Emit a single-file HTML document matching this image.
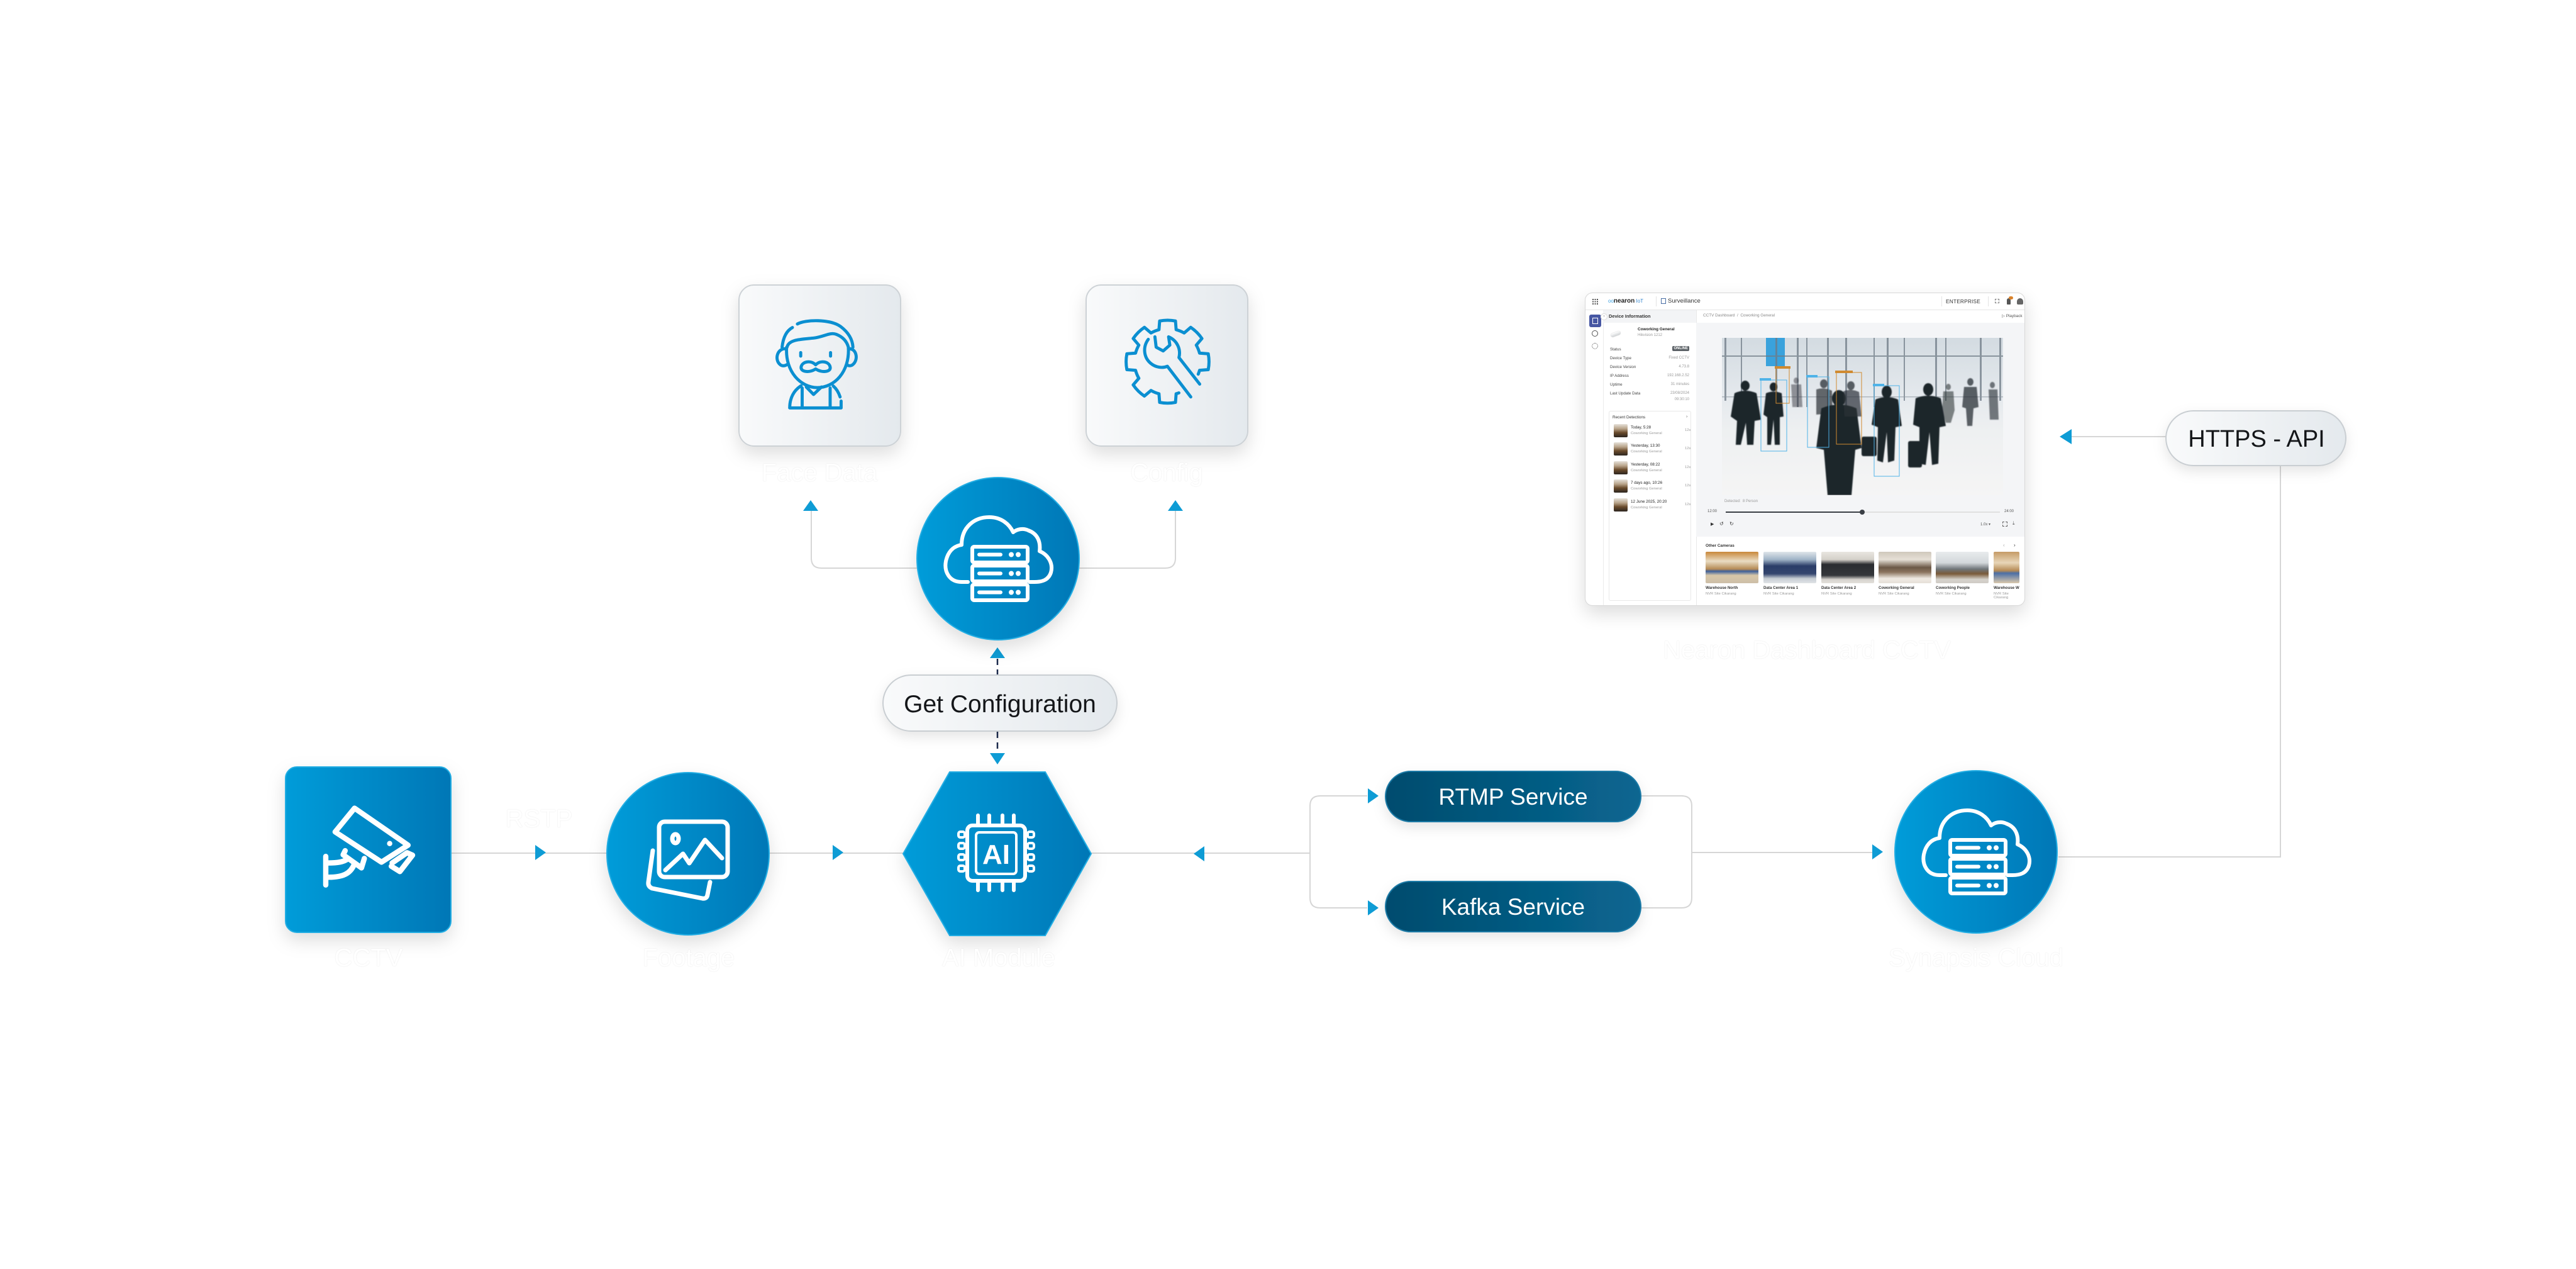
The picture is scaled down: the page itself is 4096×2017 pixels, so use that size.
<!DOCTYPE html>
<html><head><meta charset="utf-8">
<style>
html,body{margin:0;padding:0;background:#fff;}
body{width:4096px;height:2017px;position:relative;overflow:hidden;font-family:"Liberation Sans",sans-serif;}
svg.main{position:absolute;left:0;top:0;}
.lbl{position:absolute;color:#fff;font-size:40px;text-shadow:0 0 1.5px rgba(0,0,0,.13);white-space:nowrap;transform:translate(-50%,-50%);}
.dash{position:absolute;left:2520px;top:465px;width:700px;height:498px;background:#fff;border:1px solid #d8d8d8;border-radius:12px;box-shadow:0 12px 30px rgba(0,0,0,.14);overflow:hidden;box-sizing:border-box;}
.a{position:absolute;white-space:nowrap;}
.lb{font-size:6.2px;color:#444;}
.vl{font-size:6px;color:#999;text-align:right;}
.it{font-size:6.3px;color:#222;}
.is{font-size:5.8px;color:#9a9a9a;}
.th{position:absolute;width:22px;height:21px;border-radius:2px;background:linear-gradient(180deg,#e6e2da 0%,#b9a48a 35%,#6a4b2c 65%,#2c2620 100%);}
.ct{position:absolute;top:411px;width:84px;height:50px;border-radius:2px;}
.cn{position:absolute;top:465px;font-size:6.2px;font-weight:bold;color:#333;}
.cs{position:absolute;top:475px;font-size:5.8px;color:#9a9a9a;}
</style></head><body>

<svg class="main" width="4096" height="2017" viewBox="0 0 4096 2017" xmlns="http://www.w3.org/2000/svg">
<defs>
<linearGradient id="blueG" x1="0" y1="0" x2="1" y2="0">
<stop offset="0" stop-color="#049cd9"/><stop offset="1" stop-color="#0277b6"/>
</linearGradient>
<linearGradient id="grayG" x1="0" y1="0" x2="1" y2="0">
<stop offset="0" stop-color="#f9fafb"/><stop offset="1" stop-color="#e4e9ed"/>
</linearGradient>
<linearGradient id="navyG" x1="0" y1="0" x2="1" y2="0">
<stop offset="0" stop-color="#024c6e"/><stop offset="1" stop-color="#086691"/>
</linearGradient>
<filter id="sh" x="-40%" y="-40%" width="180%" height="190%">
<feDropShadow dx="0" dy="12" stdDeviation="14" flood-color="#000" flood-opacity="0.13"/>
</filter>
<filter id="sh2" x="-40%" y="-60%" width="180%" height="230%">
<feDropShadow dx="0" dy="8" stdDeviation="10" flood-color="#000" flood-opacity="0.10"/>
</filter>
<g id="cloudsrv" fill="none" stroke="#fff" stroke-width="6" stroke-linecap="round" stroke-linejoin="round">
<path d="M-48 37 H-58 C-78 37 -86 20 -83 4 C-80 -10 -72 -20 -58 -22 C-58 -50 -38 -66 -14 -66 C5 -66 18 -55 24 -42 C30 -47 40 -49 48 -45 C62 -40 68 -28 66 -12 C80 -6 88 8 84 22 C80 34 70 37 58 37 H50"/>
<rect x="-41" y="-19" width="88" height="25" rx="3"/>
<rect x="-41" y="11" width="88" height="25" rx="3"/>
<rect x="-41" y="41" width="88" height="25" rx="3"/>
<path d="M-30 -6.5 H4 M-30 23.5 H4 M-30 53.5 H4" stroke-width="6"/>
<circle cx="21" cy="-6.5" r="2.5" fill="#fff" stroke-width="3"/><circle cx="32" cy="-6.5" r="2.5" fill="#fff" stroke-width="3"/>
<circle cx="21" cy="23.5" r="2.5" fill="#fff" stroke-width="3"/><circle cx="32" cy="23.5" r="2.5" fill="#fff" stroke-width="3"/>
<circle cx="21" cy="53.5" r="2.5" fill="#fff" stroke-width="3"/><circle cx="32" cy="53.5" r="2.5" fill="#fff" stroke-width="3"/>
</g>
</defs>

<!-- connectors -->
<g fill="none" stroke="#d6d6d6" stroke-width="2">
<path d="M717 1356 H965"/>
<path d="M1223 1356 H1436"/>
<path d="M1735 1356 H2083"/>
<path d="M2174 1265 H2099 Q2083 1265 2083 1281 V1427 Q2083 1443 2099 1443 H2174"/>
<path d="M2609 1265 H2674 Q2690 1265 2690 1281 V1427 Q2690 1443 2674 1443 H2609"/>
<path d="M2690 1355 H2978"/>
<path d="M3273 1362 H3626 V740"/>
<path d="M3444 694 H3294"/>
<path d="M1460 903 H1306 Q1290 903 1290 887 V812"/>
<path d="M1715 903 H1853 Q1869 903 1869 887 V812"/>
</g>
<g stroke="#1c2b4d" stroke-width="2.5" stroke-dasharray="10 7" fill="none">
<path d="M1586 1047 V1073"/>
<path d="M1586 1163 V1197"/>
</g>

<!-- arrows -->
<g fill="#0e9cd5">
<polygon points="851,1343 868,1355 851,1367"/>
<polygon points="1324,1343 1341,1355 1324,1367"/>
<polygon points="1915,1345 1898,1357 1915,1369"/>
<polygon points="2175,1253 2192,1265 2175,1277"/>
<polygon points="2175,1431 2192,1443 2175,1455"/>
<polygon points="2977,1342 2994,1354 2977,1366"/>
<polygon points="3294,682 3275,694 3294,706"/>
<polygon points="1277,812 1289,795 1301,812"/>
<polygon points="1857,812 1869,795 1881,812"/>
<polygon points="1574,1046 1586,1029 1598,1046"/>
<polygon points="1574,1197 1586,1215 1598,1197"/>
</g>

<!-- Face Data box -->
<rect x="1175" y="453" width="257" height="256" rx="24" fill="url(#grayG)" stroke="#cdd2d6" stroke-width="2" filter="url(#sh)"/>
<g transform="translate(1175,453) scale(0.3295)" fill="none" stroke="#0b8fd1" stroke-width="15" stroke-linecap="round" stroke-linejoin="round">
<path d="M230 300 C222 420 300 495 378 495 C460 495 535 420 528 300"/>
<path d="M232 300 C240 262 300 262 360 256 C410 250 440 226 470 238 C500 250 520 270 528 300"/>
<path d="M208 300 C214 245 234 218 258 205"/>
<path d="M282 188 C322 166 440 164 490 200 C530 230 548 265 550 300"/>
<path d="M228 308 C186 302 168 360 200 385 C210 392 222 390 232 384"/>
<path d="M528 308 C566 302 580 360 548 385 C538 392 526 390 522 384"/>
<path d="M298 326 V343 M442 326 V343"/>
<path d="M370 385 C345 360 305 370 300 395 C296 420 340 425 370 405 C400 425 446 420 440 395 C435 370 395 360 370 385 Z"/>
<path d="M245 592 C245 545 265 508 300 486"/>
<path d="M245 593 H493 V560"/>
<path d="M488 540 C480 515 470 500 455 487"/>
<path d="M305 497 V592 M440 497 V592"/>
<path d="M325 492 L360 528 L398 492"/>
</g>

<!-- Config box -->
<rect x="1727" y="453" width="257" height="256" rx="24" fill="url(#grayG)" stroke="#cdd2d6" stroke-width="2" filter="url(#sh)"/>
<g transform="translate(1727,453) scale(0.3295)" fill="none" stroke="#0b8fd1" stroke-width="15" stroke-linecap="round" stroke-linejoin="round">
<path d="M447.7 520.4 A160 160 0 0 1 434.4 524.6 L431.2 566.3 A200 200 0 0 1 354.8 566.3 L351.6 524.6 A160 160 0 0 1 313 508.6 L281.2 535.8 A200 200 0 0 1 227.2 481.8 L254.4 450 A160 160 0 0 1 238.5 411.4 L196.7 408.2 A200 200 0 0 1 196.7 331.8 L238.5 328.6 A160 160 0 0 1 254.4 290 L227.2 258.2 A200 200 0 0 1 281.2 204.2 L313 231.4 A160 160 0 0 1 351.6 215.4 L354.8 173.7 A200 200 0 0 1 431.2 173.7 L434.4 215.4 A160 160 0 0 1 473 231.4 L504.8 204.2 A200 200 0 0 1 558.8 258.2 L531.6 290 A160 160 0 0 1 547.5 328.6 L589.3 331.8 A200 200 0 0 1 589.3 408.2 L547.5 411.4 A160 160 0 0 1 541 430"/>
<path d="M300 262 C272 300 278 350 312 378 C336 398 368 402 392 392 L505 540"/>
<path d="M332 250 L338 300 L372 318 L404 290 L398 250 C440 268 458 310 448 350 L548 478"/>
</g>

<!-- central cloud -->
<circle cx="1587" cy="888" r="129" fill="url(#blueG)" stroke="#22ade3" stroke-width="2" filter="url(#sh)"/>
<use href="#cloudsrv" x="1587" y="888"/>

<!-- Get Configuration pill -->
<rect x="1404" y="1073" width="372" height="89" rx="44.5" fill="url(#grayG)" stroke="#c9ced2" stroke-width="2" filter="url(#sh2)"/>
<text x="1590" y="1132" font-family="Liberation Sans, sans-serif" font-size="39" fill="#141619" text-anchor="middle">Get Configuration</text>

<!-- CCTV -->
<rect x="454" y="1219" width="263" height="263" rx="18" fill="url(#blueG)" stroke="#22ade3" stroke-width="2" filter="url(#sh)"/>
<g transform="translate(454,1219) scale(0.3247)" fill="none" stroke="#fff" stroke-width="26" stroke-linecap="round" stroke-linejoin="round">
<path d="M243 318 L338 202 L600 383 L470 466 Z"/>
<path d="M522 470 L595 420 L622 432 L560 512 L518 486"/>
<path d="M292 410 L282 430 L372 494 L386 448"/>
<path d="M197 438 V578"/>
<path d="M210 470 C255 470 285 465 305 450"/>
<path d="M210 540 C285 540 318 520 336 478"/>
<circle cx="510" cy="375" r="6" fill="#fff" stroke-width="14"/>
</g>

<!-- Footage -->
<circle cx="1094" cy="1357" r="129" fill="url(#blueG)" stroke="#22ade3" stroke-width="2" filter="url(#sh)"/>
<g fill="none" stroke="#fff" stroke-width="7" stroke-linecap="round" stroke-linejoin="round">
<rect x="1048" y="1306" width="109" height="88" rx="9"/>
<path d="M1058 1383 L1086 1357 L1096 1372 L1121 1335 L1148 1364"/>
<ellipse cx="1074" cy="1333" rx="5" ry="7"/>
<path d="M1038 1352 L1031 1402 Q1030 1409 1037 1412 L1117 1428 Q1124 1429 1125 1422 L1129 1402"/>
</g>

<!-- AI Module -->
<polygon points="1436,1357 1510,1227 1662,1227 1735,1357 1662,1487 1510,1487" fill="url(#blueG)" stroke="#22ade3" stroke-width="2" filter="url(#sh)"/>
<g fill="none" stroke="#fff" stroke-width="6" stroke-linecap="round" stroke-linejoin="round">
<rect x="1538" y="1312" width="92" height="88" rx="8"/>
<rect x="1552" y="1323" width="64" height="66" rx="5" stroke-width="4"/>
<path d="M1555 1296 V1310 M1573 1296 V1310 M1594 1296 V1310 M1612 1296 V1310"/>
<path d="M1555 1402 V1415 M1573 1402 V1415 M1594 1402 V1415 M1612 1402 V1415"/>
<rect x="1524" y="1322" width="10" height="9" rx="3" stroke-width="4"/>
<rect x="1524" y="1340" width="10" height="9" rx="3" stroke-width="4"/>
<rect x="1524" y="1358" width="10" height="9" rx="3" stroke-width="4"/>
<rect x="1524" y="1376" width="10" height="9" rx="3" stroke-width="4"/>
<rect x="1634" y="1322" width="10" height="9" rx="3" stroke-width="4"/>
<rect x="1634" y="1340" width="10" height="9" rx="3" stroke-width="4"/>
<rect x="1634" y="1358" width="10" height="9" rx="3" stroke-width="4"/>
<rect x="1634" y="1376" width="10" height="9" rx="3" stroke-width="4"/>
</g>
<text x="1584" y="1373" font-family="Liberation Sans, sans-serif" font-size="44" font-weight="bold" fill="#fff" text-anchor="middle">AI</text>

<!-- RTMP / Kafka -->
<rect x="2203" y="1226" width="406" height="80" rx="40" fill="url(#navyG)" stroke="#1a7aa6" stroke-width="2" filter="url(#sh2)"/>
<text x="2406" y="1279" font-family="Liberation Sans, sans-serif" font-size="37" fill="#fff" text-anchor="middle">RTMP Service</text>
<rect x="2203" y="1401" width="406" height="80" rx="40" fill="url(#navyG)" stroke="#1a7aa6" stroke-width="2" filter="url(#sh2)"/>
<text x="2406" y="1454" font-family="Liberation Sans, sans-serif" font-size="37" fill="#fff" text-anchor="middle">Kafka Service</text>

<!-- Synapsis Cloud -->
<circle cx="3142" cy="1354" r="129" fill="url(#blueG)" stroke="#22ade3" stroke-width="2" filter="url(#sh)"/>
<use href="#cloudsrv" x="3142" y="1354"/>

<!-- HTTPS - API -->
<rect x="3444" y="653" width="286" height="87" rx="43.5" fill="url(#grayG)" stroke="#c9ced2" stroke-width="2" filter="url(#sh2)"/>
<text x="3588" y="710" font-family="Liberation Sans, sans-serif" font-size="38" fill="#141619" text-anchor="middle">HTTPS - API</text>
</svg>

<!-- white labels -->
<div class="lbl" style="left:1303px;top:752px;">Face Data</div>
<div class="lbl" style="left:1855px;top:752px;">Config</div>
<div class="lbl" style="left:857px;top:1302px;">RSTP</div>
<div class="lbl" style="left:586px;top:1523px;">CCTV</div>
<div class="lbl" style="left:1095px;top:1523px;">Footage</div>
<div class="lbl" style="left:1588px;top:1523px;">AI Module</div>
<div class="lbl" style="left:3142px;top:1523px;">Synapsis Cloud</div>
<div class="lbl" style="left:2873px;top:1034px;">Nearon Dashboard CCTV</div>

<!-- Dashboard mock -->
<div class="dash">
  <div class="a" style="left:0;top:0;width:700px;height:26px;border-bottom:1px solid #e6e6e6;"></div>
  <svg class="a" style="left:11px;top:9px" width="9" height="9" viewBox="0 0 9 9"><g fill="#555"><rect x="0" y="0" width="2" height="2"/><rect x="3.5" y="0" width="2" height="2"/><rect x="7" y="0" width="2" height="2"/><rect x="0" y="3.5" width="2" height="2"/><rect x="3.5" y="3.5" width="2" height="2"/><rect x="7" y="3.5" width="2" height="2"/><rect x="0" y="7" width="2" height="2"/><rect x="3.5" y="7" width="2" height="2"/><rect x="7" y="7" width="2" height="2"/></g></svg>
  <div class="a" style="left:36px;top:7px;font-size:10px;line-height:11px;"><span style="color:#3aa0e0;font-size:8px;">oo</span><b style="color:#222;">nearon</b><span style="color:#3a8ad0;font-size:8px;"> IoT</span></div>
  <div class="a" style="left:112px;top:5px;width:1px;height:16px;background:#e3e3e3;"></div>
  <div class="a" style="left:120px;top:8px;width:8px;height:9px;border:1px solid #4a6fa5;box-sizing:border-box;"></div>
  <div class="a" style="left:131px;top:7px;font-size:9.5px;color:#333;">Surveillance</div>
  <div class="a" style="left:566px;top:5px;width:1px;height:16px;background:#e3e3e3;"></div>
  <div class="a" style="left:573px;top:8px;font-size:8.3px;color:#333;letter-spacing:.2px;">ENTERPRISE</div>
  <div class="a" style="left:640px;top:5px;width:1px;height:16px;background:#e3e3e3;"></div>
  <div class="a" style="left:651px;top:9px;width:7px;height:7px;border:1px dashed #777;box-sizing:border-box;"></div>
  <div class="a" style="left:670px;top:8px;width:6px;height:10px;background:#555;border-radius:3px 3px 1px 1px;"></div>
  <div class="a" style="left:673px;top:5px;width:7px;height:5px;background:#d9822b;border-radius:3px;"></div>
  <div class="a" style="left:686px;top:8px;width:10px;height:10px;background:#666;border-radius:50% 50% 2px 2px;"></div>

  <div class="a" style="left:0;top:27px;width:28px;height:471px;border-right:1px solid #ececec;"></div>
  <div class="a" style="left:6px;top:34px;width:19px;height:20px;background:#4757a3;border-radius:3px;"></div>
  <div class="a" style="left:11px;top:39px;width:9px;height:10px;border:1.2px solid #fff;box-sizing:border-box;"></div>
  <div class="a" style="left:10px;top:59px;width:10px;height:10px;border:1.2px solid #555;border-radius:50%;box-sizing:border-box;"></div>
  <div class="a" style="left:10px;top:79px;width:10px;height:10px;border:1.2px dotted #555;border-radius:50%;box-sizing:border-box;"></div>

  <div class="a" style="left:28px;top:27px;width:148px;height:471px;border-right:1px solid #e8e8e8;"></div>
  <div class="a" style="left:28px;top:27px;width:148px;height:20px;background:#f3f4f6;"></div>
  <div class="a" style="left:24px;top:32px;width:9px;height:9px;border:1px solid #ddd;background:#fff;border-radius:50%;font-size:6px;line-height:9px;text-align:center;color:#666;">›</div>
  <div class="a" style="left:37px;top:32px;font-size:7.4px;color:#333;font-weight:bold;">Device Information</div>
  <div class="a" style="left:40px;top:62px;width:16px;height:6px;background:linear-gradient(#fff,#cfd2d4);border-radius:3px;transform:rotate(-20deg);box-shadow:0 0 1px #999;"></div>
  <div class="a" style="left:83px;top:54px;font-size:6.4px;color:#222;font-weight:bold;">Coworking General</div>
  <div class="a" style="left:83px;top:64px;font-size:6px;color:#999;">Hikvision 1212</div>

  <div class="a lb" style="left:39px;top:86px;">Status</div>
  <div class="a" style="right:533px;top:84px;font-size:6px;color:#fff;background:#5b6166;padding:1px 2px;border-radius:2px;font-weight:bold;">ONLINE</div>
  <div class="a lb" style="left:39px;top:100px;">Device Type</div><div class="a vl" style="right:533px;top:100px;">Fixed CCTV</div>
  <div class="a lb" style="left:39px;top:114px;">Device Version</div><div class="a vl" style="right:533px;top:114px;">4.73.8</div>
  <div class="a lb" style="left:39px;top:128px;">IP Address</div><div class="a vl" style="right:533px;top:128px;">192.168.2.52</div>
  <div class="a lb" style="left:39px;top:142px;">Uptime</div><div class="a vl" style="right:533px;top:142px;">31 minutes</div>
  <div class="a lb" style="left:39px;top:156px;">Last Update Data</div><div class="a vl" style="right:533px;top:156px;">23/08/2024</div>
  <div class="a vl" style="right:533px;top:166px;">09:30:10</div>

  <div class="a" style="left:37px;top:187px;width:131px;height:302px;border:1px solid #e8e8e8;border-radius:3px;box-sizing:border-box;"></div>
  <div class="a" style="left:43px;top:194px;font-size:6.4px;color:#333;">Recent Detections</div>
  <div class="a" style="left:160px;top:193px;font-size:7px;color:#666;">›</div>

  <div class="th" style="left:45px;top:208px;"></div><div class="a it" style="left:72px;top:210px;">Today, 5:28</div><div class="a is" style="left:72px;top:220px;">Coworking General</div><div class="a is" style="left:158px;top:215px;">12s</div>
  <div class="th" style="left:45px;top:237px;"></div><div class="a it" style="left:72px;top:239px;">Yesterday, 13:30</div><div class="a is" style="left:72px;top:249px;">Coworking General</div><div class="a is" style="left:158px;top:244px;">12s</div>
  <div class="th" style="left:45px;top:267px;"></div><div class="a it" style="left:72px;top:269px;">Yesterday, 08:22</div><div class="a is" style="left:72px;top:279px;">Coworking General</div><div class="a is" style="left:158px;top:274px;">12s</div>
  <div class="th" style="left:45px;top:296px;"></div><div class="a it" style="left:72px;top:298px;">7 days ago, 10:26</div><div class="a is" style="left:72px;top:308px;">Coworking General</div><div class="a is" style="left:158px;top:303px;">12s</div>
  <div class="th" style="left:45px;top:326px;"></div><div class="a it" style="left:72px;top:328px;">12 June 2025, 20:20</div><div class="a is" style="left:72px;top:338px;">Coworking General</div><div class="a is" style="left:158px;top:333px;">12s</div>

  <div class="a" style="left:187px;top:32px;font-size:6.4px;color:#888;">CCTV Dashboard &nbsp;/&nbsp; Coworking General</div>
  <div class="a" style="left:662px;top:32px;font-size:6.4px;color:#555;">▷ Playback</div>
  <div class="a" style="left:176px;top:47px;width:524px;height:340px;background:#f4f5f7;"></div>

  <svg class="a" style="left:217px;top:71px" width="447" height="250" viewBox="0 0 447 250">
    <defs>
      <linearGradient id="pbg" x1="0" y1="0" x2="0" y2="1"><stop offset="0" stop-color="#d3dbe1"/><stop offset="0.4" stop-color="#e6eaee"/><stop offset="0.6" stop-color="#eef0f1"/><stop offset="1" stop-color="#f5f5f5"/></linearGradient>
      <filter id="bl"><feGaussianBlur stdDeviation="0.8"/></filter>
    </defs>
    <rect width="447" height="250" fill="url(#pbg)"/>
    <rect x="70" y="0" width="30" height="45" fill="#3aa2dc"/>
    <g fill="#6f7b86" opacity="0.75">
      <rect x="4" y="0" width="3" height="100"/><rect x="30" y="0" width="2" height="100"/><rect x="85" y="0" width="3" height="100"/><rect x="119" y="0" width="3" height="110"/><rect x="134" y="0" width="2" height="110"/><rect x="167" y="0" width="3" height="110"/><rect x="196" y="0" width="3" height="110"/><rect x="241" y="0" width="2" height="110"/><rect x="262" y="0" width="3" height="110"/><rect x="289" y="0" width="2" height="100"/><rect x="339" y="0" width="3" height="100"/><rect x="355" y="0" width="2" height="100"/><rect x="410" y="0" width="3" height="100"/><rect x="441" y="0" width="3" height="100"/>
      <rect x="0" y="28" width="447" height="2"/><rect x="0" y="93" width="447" height="1.5" opacity=".6"/>
    </g>
    <g fill="#1e252b" filter="url(#bl)">
      <ellipse cx="37" cy="76" rx="7" ry="8"/><path d="M20 88 Q37 80 55 88 L62 130 L52 132 L50 170 L40 170 L38 135 L30 170 L22 170 L24 132 L14 125 Z"/>
      <ellipse cx="82" cy="78" rx="6" ry="7"/><path d="M70 88 Q82 83 95 88 L98 125 L92 126 L92 170 L84 170 L82 130 L78 170 L72 170 L72 126 L66 122 Z"/>
      <ellipse cx="162" cy="73" rx="6" ry="7" opacity=".7"/><path d="M150 82 Q162 78 175 84 L176 120 L150 122 Z" fill="#2a2f35" opacity=".7"/>
      <ellipse cx="186" cy="96" rx="11" ry="13"/><path d="M158 112 Q186 100 214 112 L222 175 L212 178 L206 250 L168 250 L162 178 L150 175 Z"/>
      <ellipse cx="205" cy="76" rx="6" ry="7" opacity=".7"/><path d="M193 85 Q205 80 218 86 L222 125 L195 125 Z" fill="#2b3138" opacity=".7"/>
      <ellipse cx="262" cy="86" rx="8" ry="10"/><path d="M244 98 Q262 90 280 98 L286 140 L276 142 L274 195 L264 198 L262 150 L256 198 L247 195 L248 142 L238 138 Z"/>
      <ellipse cx="328" cy="82" rx="8" ry="10"/><path d="M308 96 Q328 88 348 96 L356 140 L346 142 L344 200 L334 202 L330 150 L324 202 L314 200 L314 142 L304 138 Z"/>
      <rect x="222" y="157" width="24" height="31" rx="3"/><rect x="296" y="164" width="22" height="42" rx="3"/>
      <ellipse cx="395" cy="70" rx="5" ry="6" opacity=".7"/><path d="M385 78 L405 78 L408 110 L400 112 L398 140 L390 140 L388 112 L382 110 Z" opacity=".7"/>
      <ellipse cx="360" cy="78" rx="4" ry="5" opacity=".55"/><path d="M352 85 L368 85 L370 115 L364 135 L356 135 L350 115 Z" opacity=".55"/>
      <ellipse cx="430" cy="75" rx="4" ry="5" opacity=".6"/><path d="M424 82 L438 82 L440 130 L426 130 Z" opacity=".6"/>
      <ellipse cx="118" cy="68" rx="4" ry="5" opacity=".45"/><path d="M110 74 L126 74 L128 110 L112 110 Z" opacity=".45"/>
    </g>
    <g fill="none" stroke-width="1">
      <rect x="62" y="67" width="41" height="113" stroke="#4fb3e8"/>
      <rect x="136" y="62" width="34" height="112" stroke="#4fb3e8"/>
      <rect x="242" y="76" width="40" height="144" stroke="#4fb3e8"/>
      <rect x="86" y="48" width="21" height="56" stroke="#d08a30"/>
      <rect x="182" y="55" width="40" height="114" stroke="#d08a30"/>
    </g>
    <rect x="84" y="45" width="25" height="4" fill="#d08a30"/><rect x="180" y="52" width="28" height="4" fill="#d08a30"/>
    <rect x="60" y="64" width="18" height="4" fill="#4fb3e8"/><rect x="134" y="59" width="18" height="4" fill="#4fb3e8"/><rect x="240" y="73" width="18" height="4" fill="#4fb3e8"/>
  </svg>

  <div class="a" style="left:221px;top:328px;font-size:6px;color:#999;">Detected: &nbsp;8 Person</div>
  <div class="a" style="left:194px;top:344px;font-size:6px;color:#555;">12:00</div>
  <div class="a" style="left:223px;top:347px;width:436px;height:2px;background:#e0e0e0;"></div>
  <div class="a" style="left:223px;top:347px;width:217px;height:2px;background:#3a3f45;"></div>
  <div class="a" style="left:436px;top:344px;width:8px;height:8px;border-radius:50%;background:#3a3f45;"></div>
  <div class="a" style="left:666px;top:344px;font-size:6px;color:#555;">24:00</div>
  <div class="a" style="left:199px;top:363px;font-size:7px;color:#333;">▶</div>
  <div class="a" style="left:213px;top:362px;font-size:8px;color:#333;">↺</div>
  <div class="a" style="left:229px;top:362px;font-size:8px;color:#333;">↻</div>
  <div class="a" style="left:628px;top:364px;font-size:6px;color:#555;">1.0x ▾</div>
  <div class="a" style="left:663px;top:363px;width:6px;height:6px;border:1px dashed #666;"></div>
  <div class="a" style="left:679px;top:361px;font-size:8px;color:#555;">⤓</div>

  <div class="a" style="left:191px;top:398px;font-size:6.4px;color:#333;font-weight:bold;">Other Cameras</div>
  <div class="a" style="left:664px;top:396px;font-size:8px;color:#aaa;">‹</div>
  <div class="a" style="left:681px;top:396px;font-size:8px;color:#333;">›</div>

  <div class="ct" style="left:191px;background:linear-gradient(180deg,#c9883a 0%,#e9dcc3 30%,#b68b55 55%,#3d5f9a 62%,#d8c7a8 75%,#cdbfa8 100%);"></div>
  <div class="ct" style="left:283px;background:linear-gradient(180deg,#dfe5ea 0%,#9fb3c6 25%,#2b3d68 45%,#34466e 70%,#c8ced4 85%,#e0e3e6 100%);"></div>
  <div class="ct" style="left:375px;background:linear-gradient(180deg,#e9e6e0 0%,#d4d0c9 25%,#2a2c30 40%,#35373b 75%,#d6d3ce 88%,#e2dfda 100%);"></div>
  <div class="ct" style="left:466px;background:linear-gradient(180deg,#cfc8bc 0%,#e6e0d6 25%,#6b5846 50%,#8c7560 65%,#f0ebe4 85%,#e5dfd7 100%);"></div>
  <div class="ct" style="left:557px;background:linear-gradient(180deg,#e8ebed 0%,#d3d8db 35%,#6f7579 55%,#7a5a3a 70%,#d6d2cc 88%,#cfcbc5 100%);"></div>
  <div class="ct" style="left:649px;width:41px;background:linear-gradient(180deg,#c59b66 0%,#e8d6b8 35%,#b58a55 60%,#4b6ea5 68%,#dac9ac 100%);"></div>

  <div class="cn" style="left:191px;">Warehouse North</div><div class="cs" style="left:191px;">NVR Site Cikarang</div>
  <div class="cn" style="left:283px;">Data Center Area 1</div><div class="cs" style="left:283px;">NVR Site Cikarang</div>
  <div class="cn" style="left:375px;">Data Center Area 2</div><div class="cs" style="left:375px;">NVR Site Cikarang</div>
  <div class="cn" style="left:466px;">Coworking General</div><div class="cs" style="left:466px;">NVR Site Cikarang</div>
  <div class="cn" style="left:557px;">Coworking People</div><div class="cs" style="left:557px;">NVR Site Cikarang</div>
  <div class="cn" style="left:649px;width:41px;overflow:hidden;">Warehouse W</div><div class="cs" style="left:649px;width:41px;overflow:hidden;">NVR Site Cikarang</div>
</div>

</body></html>
